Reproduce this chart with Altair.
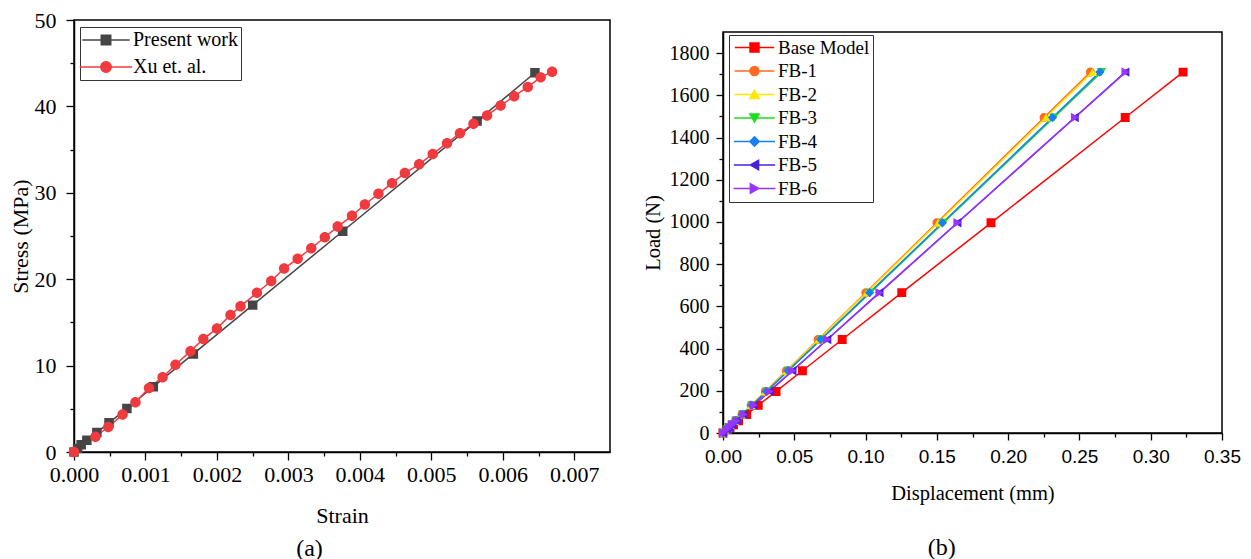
import altair as alt
import pandas as pd

SERIF = "Liberation Serif"
SANS = "Liberation Sans"

# ---------------- (a) stress-strain data ----------------
present_strain = [0, 0.00005, 0.0001, 0.00018, 0.00032, 0.00049, 0.00074, 0.00111,
                  0.00167, 0.0025, 0.00376, 0.00564, 0.00645]
present_stress = [0, 0.42, 0.85, 1.36, 2.27, 3.38, 5.04, 7.56,
                  11.35, 17.0, 25.55, 38.3, 43.9]

xu_strain = [0, 0.0003, 0.00048, 0.00068, 0.00086, 0.00105, 0.00124, 0.00142, 0.00163,
             0.00181, 0.002, 0.00219, 0.00233, 0.00256, 0.00276, 0.00294, 0.00313,
             0.00332, 0.00351, 0.00369, 0.00389, 0.00407, 0.00426, 0.00445, 0.00463,
             0.00483, 0.00502, 0.00522, 0.0054, 0.00559, 0.00578, 0.00597, 0.00616,
             0.00635, 0.00653, 0.00669]
xu_stress = [0, 1.77, 2.89, 4.33, 5.77, 7.42, 8.66, 10.1, 11.67,
             13.07, 14.3, 15.87, 16.86, 18.43, 19.79, 21.23, 22.38,
             23.58, 24.86, 26.09, 27.33, 28.65, 29.88, 31.12, 32.28,
             33.3, 34.5, 35.74, 36.89, 38.0, 38.95, 40.1, 41.18,
             42.25, 43.36, 44.02]

series_a = ["Present work", "Xu et. al."]
colors_a = ["#454545", "#EF3B3F"]

x_ticks_a = [0, 0.001, 0.002, 0.003, 0.004, 0.005, 0.006, 0.007]
x_minor_a = [0.0005, 0.0015, 0.0025, 0.0035, 0.0045, 0.0055, 0.0065]
y_ticks_a = [0, 10, 20, 30, 40, 50]
y_minor_a = [5, 15, 25, 35, 45]

# ---------------- (b) load-displacement data ----------------
loads = [0, 17, 26, 39, 58, 88, 131, 197, 295, 443, 665, 996, 1495, 1710]
disp_base = [0, 0.0032, 0.0049, 0.0074, 0.0109, 0.0166, 0.0247, 0.0372, 0.0557, 0.0836, 0.1254, 0.1880, 0.2821, 0.3227]
disp_fb1 = [0, 0.0026, 0.0039, 0.0059, 0.0087, 0.0133, 0.0197, 0.0297, 0.0444, 0.0667, 0.1002, 0.1500, 0.2252, 0.2577]
disp_fb2 = [0, 0.0026, 0.0039, 0.0059, 0.0088, 0.0133, 0.0198, 0.0298, 0.0447, 0.0671, 0.1008, 0.1509, 0.2265, 0.2591]
disp_fb3 = [0, 0.0026, 0.0040, 0.0061, 0.0090, 0.0137, 0.0203, 0.0306, 0.0458, 0.0688, 0.1033, 0.1547, 0.2321, 0.2655]
disp_fb4 = [0, 0.0026, 0.0040, 0.0060, 0.0090, 0.0136, 0.0202, 0.0304, 0.0456, 0.0685, 0.1028, 0.1539, 0.2311, 0.2643]
disp_fb5 = [0, 0.0028, 0.0043, 0.0064, 0.0096, 0.0145, 0.0216, 0.0325, 0.0487, 0.0731, 0.1097, 0.1644, 0.2467, 0.2822]
disp_fb6 = [0, 0.0028, 0.0043, 0.0064, 0.0096, 0.0145, 0.0216, 0.0325, 0.0487, 0.0732, 0.1098, 0.1645, 0.2469, 0.2824]

series_b = ["Base Model", "FB-1", "FB-2", "FB-3", "FB-4", "FB-5", "FB-6"]
colors_b = ["#FF0000", "#FF6A20", "#FFE600", "#1EDC1E", "#1780F5", "#4A22DD", "#9933FF"]

x_ticks_b = [0, 0.05, 0.10, 0.15, 0.20, 0.25, 0.30, 0.35]
x_minor_b = [0.025, 0.075, 0.125, 0.175, 0.225, 0.275, 0.325]
y_ticks_b = [0, 200, 400, 600, 800, 1000, 1200, 1400, 1600, 1800]
y_minor_b = [100, 300, 500, 700, 900, 1100, 1300, 1500, 1700]

# ---------------- marker paths (legend line + marker) ----------------
MARK = {
    "square": "M-1,-1H1V1H-1Z",
    "circle": "M-1,0A1,1,0,1,1,1,0A1,1,0,1,1,-1,0Z",
    "up": "M0,-0.866L1,0.866L-1,0.866Z",
    "down": "M0,0.866L1,-0.866L-1,-0.866Z",
    "diamond": "M-1,0L0,-1L1,0L0,1Z",
    "left": "M-0.866,0L0.866,-1L0.866,1Z",
    "right": "M0.866,0L-0.866,-1L-0.866,1Z",
}


def sym(kind, half):
    return f"M{-half},0H{half}" + MARK[kind]


df_a = pd.DataFrame({
    "series": [series_a[0]] * len(present_strain) + [series_a[1]] * len(xu_strain),
    "strain": present_strain + xu_strain,
    "stress": present_stress + xu_stress,
})

frames = []
for name, d in zip(series_b, [disp_base, disp_fb1, disp_fb2, disp_fb3, disp_fb4, disp_fb5, disp_fb6]):
    frames.append(pd.DataFrame({"series": name, "disp": d, "load": loads}))
df_b = pd.concat(frames, ignore_index=True)


def minor_axis(orient, values):
    return alt.Axis(orient=orient, values=values, labels=False, tickSize=4, domain=False,
                    grid=False, title=None)


def panel(df, xf, yf, xdom, ydom, series, colors, shapes, sizes, xmaj, ymaj, xmin, ymin,
          legend, width, height, caption, cap_offset):
    cscale = alt.Scale(domain=series, range=colors)
    sscale = alt.Scale(domain=series, range=shapes)
    xs = alt.Scale(domain=xdom, nice=False, zero=False)
    ys = alt.Scale(domain=ydom, nice=False, zero=False)

    leg_layer = alt.Chart(df).mark_point(filled=True, opacity=0, strokeWidth=1.5).encode(
        x=alt.X(f"{xf}:Q", scale=xs, axis=None),
        y=alt.Y(f"{yf}:Q", scale=ys, axis=None),
        color=alt.Color("series:N", scale=cscale, legend=legend),
        stroke=alt.Stroke("series:N", scale=alt.Scale(domain=series, range=colors), legend=legend),
        shape=alt.Shape("series:N", scale=sscale, legend=legend),
    )
    lines = alt.Chart(df).mark_line(strokeWidth=1.5).encode(
        x=alt.X(f"{xf}:Q", scale=xs, axis=minor_axis("bottom", xmin)),
        y=alt.Y(f"{yf}:Q", scale=ys, axis=minor_axis("left", ymin)),
        color=alt.Color("series:N", scale=cscale, legend=None),
        detail="series:N",
    )
    points = alt.Chart(df).mark_point(filled=True, opacity=1).encode(
        x=alt.X(f"{xf}:Q", scale=xs, axis=xmaj),
        y=alt.Y(f"{yf}:Q", scale=ys, axis=ymaj),
        color=alt.Color("series:N", scale=cscale, legend=None),
        shape=alt.Shape("series:N", scale=sscale, legend=None),
        size=alt.Size("series:N", scale=alt.Scale(domain=series, range=sizes), legend=None),
    )
    return alt.layer(leg_layer, lines, points).resolve_axis(
        x="independent", y="independent").properties(
        width=width, height=height,
        title=alt.TitleParams(caption, orient="bottom", anchor="middle", frame="bounds",
                              fontSize=24, font=SERIF, fontWeight="normal", offset=cap_offset,
                              color="black"),
    )


SPACER_H = 1
SPACER_GAP = 10

legend_a = alt.Legend(orient="none", legendX=6, legendY=7, title=None, symbolSize=100,
                      symbolStrokeWidth=1.5, symbolOpacity=1, symbolOffset=13, labelOffset=17,
                      labelFontSize=20, labelFont=SERIF, labelColor="black", padding=3,
                      rowPadding=7, strokeColor="#333333", fillColor="white",
                      labelLimit=300)
legend_b = alt.Legend(orient="none", legendX=6, legendY=4 + SPACER_H + SPACER_GAP, title=None,
                      symbolSize=100, symbolStrokeWidth=1.5, symbolOpacity=1, symbolOffset=13,
                      labelOffset=14, labelFontSize=19, labelFont=SERIF, labelColor="black",
                      padding=3, rowPadding=3.5, strokeColor="#333333", fillColor="white",
                      labelLimit=300)

xaxis_a = alt.Axis(orient="bottom", values=x_ticks_a, format=".3f", labelFontSize=22,
                   tickSize=8, labelPadding=4, labelFlush=False, title="Strain",
                   titleFontSize=22, titlePadding=20)
yaxis_a = alt.Axis(orient="left", values=y_ticks_a, labelFontSize=22, tickSize=8,
                   labelPadding=10, title="Stress (MPa)", titleFontSize=22, titlePadding=2)
xaxis_b = alt.Axis(orient="bottom", values=x_ticks_b, format=".2f", labelFont=SANS,
                   labelFontSize=19, tickSize=7, labelPadding=7, labelFlush=False,
                   title="Displacement (mm)", titleFontSize=20.5, titlePadding=17)
yaxis_b = alt.Axis(orient="left", values=y_ticks_b, format="d", labelFontSize=20, tickSize=7,
                   labelPadding=7, title="Load (N)", titleFontSize=20.5, titlePadding=6)

chart_a = panel(df_a, "strain", "stress", [0, 0.0075], [0, 50], series_a, colors_a,
                [sym("square", 5.0), sym("circle", 5.0)], [90, 110],
                xaxis_a, yaxis_a, x_minor_a, y_minor_a, legend_a, 536, 432, "(a)", 11)
chart_b = panel(df_b, "disp", "load", [0, 0.35], [0, 1900], series_b, colors_b,
                [sym("square", 4.4), sym("circle", 4.4), sym("up", 4.4), sym("down", 4.4),
                 sym("diamond", 4.4), sym("left", 4.4), sym("right", 4.4)],
                [80, 90, 90, 90, 100, 90, 90],
                xaxis_b, yaxis_b, x_minor_b, y_minor_b, legend_b, 499, 401, "(b)", 32)

# invisible 1px spacer that lowers panel (b) relative to panel (a)
spacer = alt.Chart(pd.DataFrame({"s": [0]})).mark_point(opacity=0, size=0).encode(
    x=alt.value(0), y=alt.value(0)
).properties(width=1, height=SPACER_H, view=alt.ViewBackground(strokeOpacity=0))

right_col = alt.vconcat(spacer, chart_b, spacing=SPACER_GAP)

chart = alt.hconcat(chart_a, right_col, spacing=31).resolve_scale(
    color="independent", shape="independent", stroke="independent", size="independent"
).resolve_legend(
    color="independent", shape="independent", stroke="independent", size="independent"
).properties(padding=0).configure_view(
    stroke="black", strokeWidth=1.5
).configure_axis(
    grid=False, domainColor="black", domainWidth=1.5, tickColor="black", tickWidth=1.3,
    labelColor="black", titleColor="black", labelFont=SERIF, titleFont=SERIF,
    titleFontWeight="normal"
).configure_legend(
    labelFont=SERIF
)

chart.save("out.html", embed_options={"renderer": "svg", "actions": False})
